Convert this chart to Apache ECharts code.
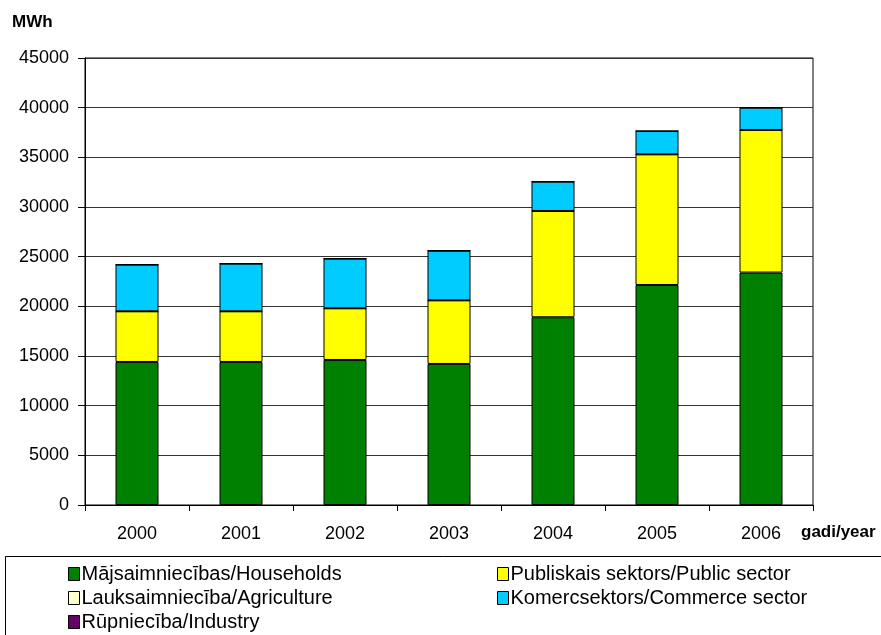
<!DOCTYPE html>
<html><head><meta charset="utf-8">
<script src="https://cdn.jsdelivr.net/npm/echarts@6/dist/echarts.min.js"></script>
<style>html,body{margin:0;padding:0;background:#fff}#c{width:881px;height:635px}</style>
</head><body><div id="c"></div>
<script>
const years = ['2000','2001','2002','2003','2004','2005','2006'];
const households = [14400, 14400, 14600, 14200, 18900, 22150, 23400];
const publicSector = [5100, 5100, 5200, 6400, 10700, 13150, 14350];
const agriculture = [0, 0, 0, 0, 0, 0, 0];
const commerce = [4700, 4800, 5000, 5000, 2950, 2350, 2250];
const industry = [0, 0, 0, 0, 0, 0, 0];
const yTicks = [0, 5000, 10000, 15000, 20000, 25000, 30000, 35000, 40000, 45000];

const names = ['Mājsaimniecības/Households','Publiskais sektors/Public sector','Lauksaimniecība/Agriculture','Komercsektors/Commerce sector','Rūpniecība/Industry'];
const colors = ['#008000','#FFFF00','#FFFFCC','#00CCFF','#660066'];
const datas = [households, publicSector, agriculture, commerce, industry];
const font = '"Liberation Sans", Arial, sans-serif';

const chart = echarts.init(document.getElementById('c'), null, {renderer:'canvas'});
const legendPos = [
  {left:68, top:564}, {left:497, top:564},
  {left:68, top:588}, {left:497, top:588},
  {left:68, top:612}
];
chart.setOption({
  animation:false,
  textStyle:{fontFamily:font},
  grid:{left:85, top:58, width:728, height:447, show:true, borderColor:'#000', borderWidth:1, containLabel:false},
  xAxis:{type:'category', data:years,
    axisLine:{lineStyle:{color:'#000'}},
    axisTick:{show:true, length:6, lineStyle:{color:'#000'}},
    axisLabel:{color:'#000', fontSize:18, margin:20, fontFamily:font}},
  yAxis:{type:'value', min:yTicks[0], max:yTicks[yTicks.length-1], interval:5000,
    axisLine:{show:true, lineStyle:{color:'#000'}},
    axisTick:{show:true, length:7, lineStyle:{color:'#000'}},
    axisLabel:{color:'#000', fontSize:18, margin:16, fontFamily:font, formatter:v=>String(v)},
    splitLine:{lineStyle:{color:'#333', width:1}}},
  legend: names.map((n,i)=>({
    data:[n], left:legendPos[i].left, top:legendPos[i].top, itemWidth:11, itemHeight:13, itemGap:0,
    icon:'rect', padding:0,
    itemStyle:{borderColor:'#000', borderWidth:1},
    textStyle:{color:'#000', fontSize:20, fontFamily:font, padding:[0,0,0,-3]}
  })),
  graphic:[
    {type:'text', left:12, top:14, style:{text:'MWh', font:'bold 17px '+font, fill:'#000'}},
    {type:'text', left:801, top:524, style:{text:'gadi/year', font:'bold 17px '+font, fill:'#000'}},
    {type:'rect', shape:{x:5.5, y:556.5, width:880, height:85}, style:{fill:'none', stroke:'#000', lineWidth:1}, z:-1}
  ],
  series: names.map((n,i)=>({
    name:n, type:'bar', stack:'total', data:datas[i], barWidth:43,
    itemStyle:{color:colors[i], borderColor:'#000', borderWidth:1}
  }))
});
</script></body></html>
